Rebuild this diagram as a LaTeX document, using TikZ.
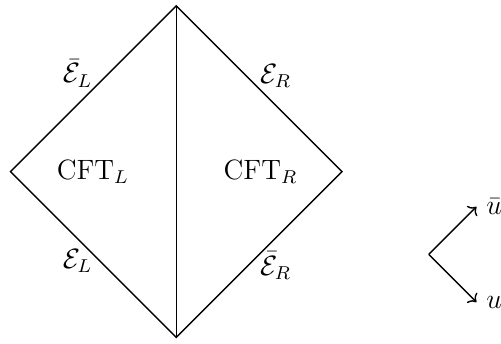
\documentclass[tikz,border=0pt,12pt]{standalone}
\usepackage{tikz}
\usetikzlibrary{arrows.meta}

\begin{document}
\begin{tikzpicture}[line width=0.6pt]
    \useasboundingbox (-2.66,-2.59) rectangle (4.9,2.59);
    \coordinate (top) at (0,2.5);
    \coordinate (bottom) at (0,-2.5);
    \coordinate (leftTip) at (-2.5,0);
    \coordinate (rightTip) at (2.5,0);

    \draw (top) -- (leftTip) -- (bottom) -- (rightTip) -- cycle;
    \draw (top) -- (bottom);

    \node(cftL) at (-1.26,0) {$\mathrm{CFT}_L$};
    \node(cftR) at (1.27,0) {$\mathrm{CFT}_R$};
    \node(EbarL) at (-1.49,1.48) {$\bar{\mathcal{E}}_L$};
    \node(ER) at (1.5,1.44) {$\mathcal{E}_R$};
    \node(EL) at (-1.49,-1.35) {$\mathcal{E}_L$};
    \node(EbarR) at (1.5,-1.42) {$\bar{\mathcal{E}}_R$};

    \coordinate (corner) at (3.81,-1.25);
    \node[right](ubar) at (4.53,-0.53) {$\bar{u}$};
    \node[right](u) at (4.53,-1.97) {$u$};
    \draw [->] (corner) -- (ubar.west);
    \draw [->] (corner) -- (u.west);
\end{tikzpicture}
\end{document}
